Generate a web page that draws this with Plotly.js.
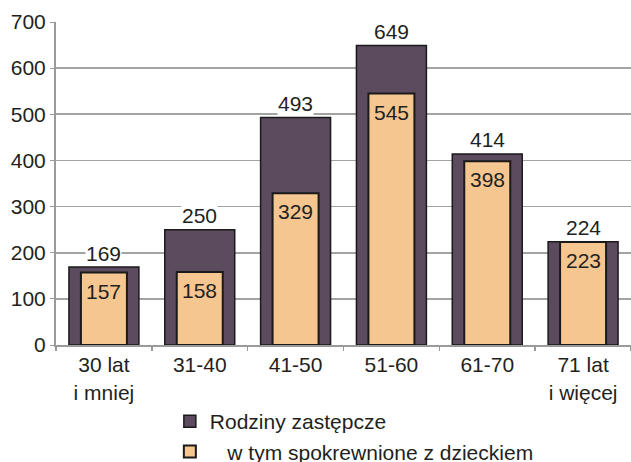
<!DOCTYPE html>
<html><head><meta charset="utf-8">
<script src="https://cdn.plot.ly/plotly-3.0.1.min.js"></script>
<style>html,body{margin:0;background:#fff;overflow:hidden}#wrap{width:631px;height:462px;overflow:hidden}#c{width:631px;height:490px}</style>
</head><body><div id="wrap"><div id="c"></div></div>
<script>
var categories = ["30 lat<br>i mniej","31-40","41-50","51-60","61-70","71 lat<br>i więcej"];
var rodziny = [169,250,493,649,414,224];
var spokrewnione = [157,158,329,545,398,223];
var seriesNames = ["Rodziny zastępcze","   w tym spokrewnione z dzieckiem"];

var font = "Liberation Sans, Arial, sans-serif";
var txt = "#231f20";
var fs = 21;
var traces = [
  {type:"bar", x:categories, y:rodziny, name:seriesNames[0], width:0.73, legendgroup:"a",
   marker:{color:"#5c4a5f", line:{color:"#1a1a1a", width:1.5}}, hoverinfo:"none"},
  {type:"bar", x:categories, y:spokrewnione, name:seriesNames[1], width:0.48, legendgroup:"b",
   marker:{color:"#f5c690", line:{color:"#1a1a1a", width:2}}, hoverinfo:"none"}
];
var ann = [];
categories.forEach(function(c,i){
  ann.push({x:c, y:rodziny[i], text:String(rodziny[i]), showarrow:false, yanchor:"bottom", yshift:1.5,
    font:{family:font,size:fs,color:txt}, bgcolor:"#fff", borderpad:0});
  ann.push({x:c, y:spokrewnione[i], text:String(spokrewnione[i]), showarrow:false, yanchor:"top", yshift:-5,
    font:{family:font,size:fs,color:txt}});
});
var layout = {
  width:631, height:490, barmode:"overlay", bargap:0,
  margin:{l:56,r:0,t:22,b:145},
  paper_bgcolor:"#fff", plot_bgcolor:"#fff",
  font:{family:font, size:fs, color:txt},
  xaxis:{showline:true, linecolor:"#9a9a9a", linewidth:2, tickson:"boundaries", ticks:"outside",
    ticklen:4, tickcolor:"#9a9a9a", tickwidth:1.5, tickfont:{size:fs}, showgrid:false},
  yaxis:{range:[0,700], dtick:100, showline:true, linecolor:"#9a9a9a", linewidth:2,
    gridcolor:"#a3a3a3", gridwidth:1.8, ticks:"outside", ticklen:4, tickcolor:"#9a9a9a",
    tickfont:{size:fs}, zeroline:false},
  legend:{orientation:"v", traceorder:"grouped",
    x:0.198, xanchor:"left", y:-0.1734, yanchor:"top",
    font:{size:fs,color:txt}, tracegroupgap:0, itemwidth:30},
  annotations:ann, showlegend:true
};
Plotly.newPlot("c", traces, layout, {staticPlot:true});
</script></body></html>
